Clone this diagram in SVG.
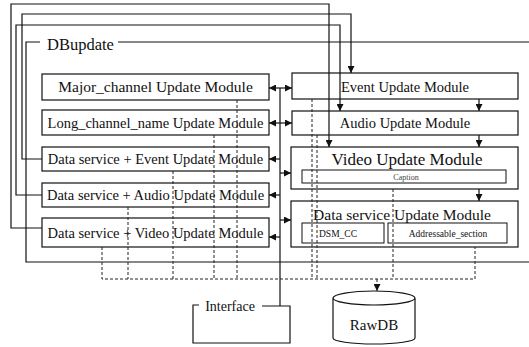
<svg xmlns="http://www.w3.org/2000/svg" width="529" height="347" viewBox="0 0 529 347">
<defs>
<marker id="ah" viewBox="0 0 8 8" refX="8" refY="4" markerWidth="7" markerHeight="7" markerUnits="userSpaceOnUse" orient="auto">
<path d="M0,0 L8,4 L0,8 Z" fill="#111"/>
</marker>
</defs>
<style>
.bx{fill:#fff;stroke:#111;stroke-width:1.2}
.ib{fill:none;stroke:#111;stroke-width:1}
.ln{fill:none;stroke:#111;stroke-width:1.2}
.ds{fill:none;stroke:#222;stroke-width:1;stroke-dasharray:3,2}
.t{font-family:"Liberation Serif","Times New Roman",serif;fill:#111;text-anchor:middle}
.m{font-size:14.5px}
</style>
<rect width="529" height="347" fill="#fff"/>

<g id="dbupdate">
<path class="ln" d="M40,42 H26 V262 H529 M118,42 H529"/>
<text class="t" x="47" y="50" style="font-size:16.5px;text-anchor:start">DBupdate</text>
</g>

<g id="major">
<rect class="bx" x="42" y="74" width="227" height="26"/>
<text class="t" x="155.5" y="92" style="font-size:15.5px">Major_channel Update Module</text>
</g>
<g id="long">
<rect class="bx" x="42" y="110" width="227" height="25"/>
<text class="t m" x="155.5" y="127.5">Long_channel_name Update Module</text>
</g>
<g id="dsevent">
<rect class="bx" x="42" y="147" width="227" height="24"/>
<text class="t m" x="155.5" y="164">Data service + Event Update Module</text>
</g>
<g id="dsaudio">
<rect class="bx" x="42" y="183" width="227" height="24"/>
<text class="t m" x="155.5" y="200">Data service + Audio Update Module</text>
</g>
<g id="dsvideo">
<rect class="bx" x="42" y="218" width="227" height="29"/>
<text class="t m" x="155.5" y="238">Data service + Video Update Module</text>
</g>

<g id="event">
<rect class="bx" x="292" y="73" width="226" height="26"/>
<text class="t m" x="405" y="92">Event Update Module</text>
</g>
<g id="audio">
<rect class="bx" x="292" y="111" width="226" height="24"/>
<text class="t m" x="405" y="128">Audio Update Module</text>
</g>
<g id="video">
<rect class="bx" x="291" y="147" width="227" height="42"/>
<text class="t" x="407" y="165" style="font-size:17px">Video Update Module</text>
<rect class="ib" x="302" y="170" width="204" height="13"/>
<text class="t" x="406" y="180" style="font-size:8px;fill:#444">Caption</text>
</g>
<g id="dsupdate">
<rect class="bx" x="291" y="201" width="227" height="46"/>
<text class="t" x="402" y="220" style="font-size:15.5px">Data service Update Module</text>
<g id="dsmcc">
<rect class="ib" x="302" y="223" width="82" height="20"/>
<text class="t" x="319" y="236.5" style="font-size:9.5px;text-anchor:start">DSM_CC</text>
</g>
<g id="addr">
<rect class="ib" x="388" y="223" width="119" height="20"/>
<text class="t" x="448" y="236.5" style="font-size:9.5px">Addressable_section</text>
</g>
</g>

<g id="interface">
<path class="ln" d="M199,305 H193 V343 H290 V306 H262"/>
<text class="t" x="230" y="311" style="font-size:14px">Interface</text>
</g>

<g id="rawdb">
<path class="ln" d="M333,298 A41,7 0 0,0 415,298 A41,7 0 0,0 333,298 V338 A41,6 0 0,0 415,338 V298"/>
<text class="t" x="374" y="330" style="font-size:15px">RawDB</text>
</g>

<g id="connectors">
<path class="ln" d="M42,228 H11 V4 H329 V147" marker-end="url(#ah)"/>
<path class="ln" d="M42,159 H22 V14 H351 V73" marker-end="url(#ah)"/>
<path class="ln" d="M42,195 H16 V25 H340 V111" marker-end="url(#ah)"/>
<path class="ln" d="M479,99 V111" marker-end="url(#ah)"/>
<path class="ln" d="M479,135 V147" marker-end="url(#ah)"/>
<path class="ln" d="M479,189 V201" marker-end="url(#ah)"/>
<path class="ln" d="M280,88 V306"/>
<path class="ln" d="M280,88 H269" marker-end="url(#ah)"/>
<path class="ln" d="M280,88 H292" marker-end="url(#ah)"/>
<path class="ln" d="M280,123 H269" marker-end="url(#ah)"/>
<path class="ln" d="M280,123 H292" marker-end="url(#ah)"/>
<path class="ln" d="M280,159 H269" marker-end="url(#ah)"/>
<path class="ln" d="M280,173 H291" marker-end="url(#ah)"/>
<path class="ln" d="M280,195 H269" marker-end="url(#ah)"/>
<path class="ln" d="M280,220 H291" marker-end="url(#ah)"/>
<path class="ln" d="M280,237 H269" marker-end="url(#ah)"/>
<path class="ds" d="M237,100 V279 M214,135 V279 M173,171 V279 M128,207 V279 M102,247 V279 H475 V247 M312,99 V279 M317,135 V279 M393,189 V279"/>
<path class="ds" d="M377,279 V291" marker-end="url(#ah)"/>
</g>
</svg>
